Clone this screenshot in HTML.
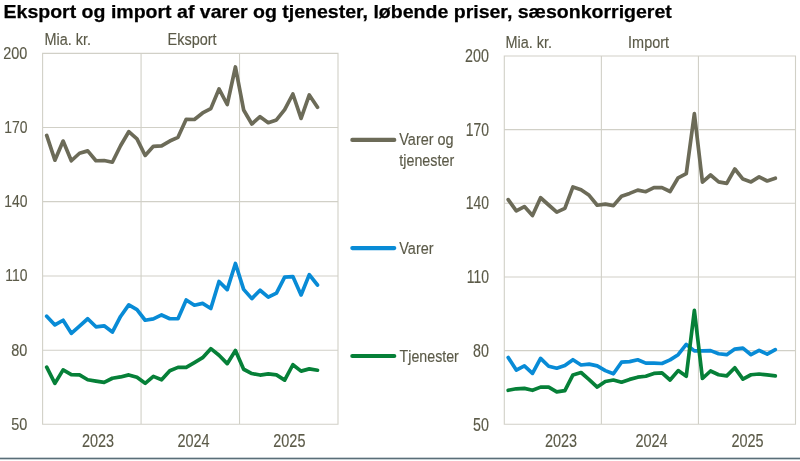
<!DOCTYPE html>
<html lang="da"><head><meta charset="utf-8"><title>Eksport og import af varer og tjenester</title>
<style>
html,body{margin:0;padding:0;background:#fff;}
body{width:800px;height:461px;overflow:hidden;}
svg{display:block;}
text{font-family:"Liberation Sans",Arial,Helvetica,sans-serif;}
.t{font-weight:bold;font-size:18.6px;fill:#000;stroke:#000;stroke-width:0.25px;}
.n{font-size:16.5px;fill:#5b5a48;stroke:#5b5a48;stroke-width:0.15px;}
</style></head><body>
<svg width="800" height="461" viewBox="0 0 800 461">
<rect width="800" height="461" fill="#fff"/>

<text class="t" x="3.5" y="17.75" textLength="668.3" lengthAdjust="spacingAndGlyphs">Eksport og import af varer og tjenester, løbende priser, sæsonkorrigeret</text>
<path d="M42.6 53.40H338.0M42.6 127.50H338.0M42.6 201.60H338.0M42.6 275.95H338.0M42.6 350.30H338.0M42.6 424.20H338.0M42.60 53.35V424.05M141.07 53.35V424.05M239.53 53.35V424.05M338.00 53.35V424.05" stroke="#d1d0c7" stroke-width="1.1" stroke-linecap="square" fill="none"/>
<path d="M504.3 56.00H795.5M504.3 129.66H795.5M504.3 203.32H795.5M504.3 276.98H795.5M504.3 350.64H795.5M504.3 424.30H795.5M504.30 56.0V424.3M601.37 56.0V424.3M698.43 56.0V424.3M795.50 56.0V424.3" stroke="#d1d0c7" stroke-width="1.1" stroke-linecap="square" fill="none"/>
<polyline points="46.70,135.45 54.91,160.20 63.11,141.05 71.32,160.75 79.53,153.25 87.73,150.85 95.94,160.75 104.14,160.55 112.35,162.25 120.55,145.75 128.76,131.70 136.96,138.85 145.17,155.45 153.38,146.35 161.58,145.95 169.79,141.05 177.99,137.35 186.20,119.35 194.40,119.50 202.61,112.95 210.81,108.60 219.02,88.95 227.22,104.50 235.43,67.00 243.64,109.95 251.84,124.00 260.05,116.70 268.25,122.70 276.46,119.90 284.66,109.60 292.87,94.00 301.08,118.40 309.28,94.95 317.49,107.30" fill="none" stroke="#6c6b58" stroke-width="3.7" stroke-linejoin="round" stroke-linecap="round"/>
<polyline points="46.70,316.15 54.91,324.95 63.11,320.25 71.32,333.35 79.53,326.05 87.73,318.75 95.94,326.80 104.14,325.85 112.35,332.05 120.55,316.45 128.76,304.85 136.96,309.55 145.17,320.25 153.38,318.95 161.58,314.95 169.79,318.75 177.99,318.75 186.20,299.95 194.40,305.25 202.61,303.35 210.81,308.45 219.02,281.45 227.22,289.65 235.43,263.45 243.64,289.35 251.84,298.65 260.05,290.25 268.25,297.15 276.46,293.05 284.66,277.15 292.87,276.55 301.08,294.95 309.28,274.65 317.49,285.00" fill="none" stroke="#088bd6" stroke-width="3.7" stroke-linejoin="round" stroke-linecap="round"/>
<polyline points="46.70,367.10 54.91,383.35 63.11,369.85 71.32,374.55 79.53,374.90 87.73,379.75 95.94,381.05 104.14,382.40 112.35,378.25 120.55,376.95 128.76,374.90 136.96,377.35 145.17,383.35 153.38,376.40 161.58,379.75 169.79,370.75 177.99,367.40 186.20,367.35 194.40,362.55 202.61,357.65 210.81,348.65 219.02,355.25 227.22,363.65 235.43,350.55 243.64,369.25 251.84,373.55 260.05,375.05 268.25,373.95 276.46,374.90 284.66,380.15 292.87,364.75 301.08,371.15 309.28,368.90 317.49,370.25" fill="none" stroke="#068038" stroke-width="3.7" stroke-linejoin="round" stroke-linecap="round"/>
<polyline points="508.20,199.60 516.29,210.90 524.38,206.60 532.48,215.60 540.57,197.75 548.67,205.00 556.76,212.20 564.86,208.40 572.95,186.90 581.04,189.70 589.14,195.30 597.23,205.25 605.32,204.10 613.42,205.60 621.51,196.25 629.61,193.40 637.70,190.10 645.79,191.70 653.89,187.60 661.98,187.60 670.08,191.50 678.17,177.80 686.26,173.70 694.36,113.70 702.45,182.10 710.55,175.00 718.64,181.90 726.73,183.40 734.83,169.00 742.92,179.10 751.02,181.90 759.11,176.90 767.20,181.00 775.30,178.20" fill="none" stroke="#6c6b58" stroke-width="3.7" stroke-linejoin="round" stroke-linecap="round"/>
<polyline points="508.20,357.50 516.29,370.10 524.38,365.90 532.48,373.40 540.57,358.40 548.67,366.30 556.76,368.20 564.86,365.60 572.95,359.75 581.04,365.00 589.14,364.10 597.23,365.90 605.32,370.60 613.42,373.80 621.51,362.20 629.61,361.60 637.70,359.75 645.79,363.10 653.89,363.10 661.98,363.50 670.08,359.90 678.17,354.70 686.26,344.40 694.36,350.90 702.45,350.90 710.55,350.60 718.64,353.75 726.73,354.70 734.83,349.10 742.92,348.10 751.02,354.70 759.11,350.40 767.20,354.10 775.30,349.60" fill="none" stroke="#088bd6" stroke-width="3.7" stroke-linejoin="round" stroke-linecap="round"/>
<polyline points="508.20,390.30 516.29,388.80 524.38,388.40 532.48,390.30 540.57,387.10 548.67,387.10 556.76,391.80 564.86,390.70 572.95,374.90 581.04,372.50 589.14,379.60 597.23,387.10 605.32,381.50 613.42,380.00 621.51,382.25 629.61,379.40 637.70,377.20 645.79,376.25 653.89,373.40 661.98,372.90 670.08,380.00 678.17,370.60 686.26,376.25 694.36,310.40 702.45,378.50 710.55,371.00 718.64,374.75 726.73,375.90 734.83,367.80 742.92,379.10 751.02,374.75 759.11,374.00 767.20,374.90 775.30,375.90" fill="none" stroke="#068038" stroke-width="3.7" stroke-linejoin="round" stroke-linecap="round"/>
<line x1="352.3" y1="139.9" x2="394.3" y2="139.9" stroke="#6c6b58" stroke-width="4.1" stroke-linecap="round"/>
<line x1="352.3" y1="248.1" x2="394.3" y2="248.1" stroke="#088bd6" stroke-width="4.1" stroke-linecap="round"/>
<line x1="352.3" y1="356" x2="394.3" y2="356" stroke="#068038" stroke-width="4.1" stroke-linecap="round"/>
<text class="n" transform="translate(399.3 145) scale(0.876 1)">Varer og</text>
<text class="n" transform="translate(399.3 165.7) scale(0.868 1)">tjenester</text>
<text class="n" transform="translate(399.3 253.5) scale(0.876 1)">Varer</text>
<text class="n" transform="translate(399.6 361.8) scale(0.862 1)">Tjenester</text>
<text class="n" transform="translate(27.4 58.60) scale(0.85 1)" text-anchor="end" style="font-size:17px">200</text>
<text class="n" transform="translate(27.4 133.10) scale(0.82 1)" text-anchor="end" style="font-size:17px">170</text>
<text class="n" transform="translate(27.4 207.20) scale(0.82 1)" text-anchor="end" style="font-size:17px">140</text>
<text class="n" transform="translate(27.4 281.40) scale(0.82 1)" text-anchor="end" style="font-size:17px">110</text>
<text class="n" transform="translate(27.4 355.80) scale(0.85 1)" text-anchor="end" style="font-size:17px">80</text>
<text class="n" transform="translate(27.4 430.15) scale(0.85 1)" text-anchor="end" style="font-size:17px">50</text>
<text class="n" transform="translate(488.9 61.75) scale(0.815 1)" text-anchor="end" style="font-size:17.5px">200</text>
<text class="n" transform="translate(488.9 135.50) scale(0.795 1)" text-anchor="end" style="font-size:17.5px">170</text>
<text class="n" transform="translate(488.9 209.25) scale(0.795 1)" text-anchor="end" style="font-size:17.5px">140</text>
<text class="n" transform="translate(488.9 283.00) scale(0.795 1)" text-anchor="end" style="font-size:17.5px">110</text>
<text class="n" transform="translate(488.9 356.75) scale(0.815 1)" text-anchor="end" style="font-size:17.5px">80</text>
<text class="n" transform="translate(488.9 430.50) scale(0.815 1)" text-anchor="end" style="font-size:17.5px">50</text>
<text class="n" transform="translate(44.4 45.3) scale(0.876 1)">Mia. kr.</text>
<text class="n" transform="translate(505.4 47.7) scale(0.876 1)">Mia. kr.</text>
<text class="n" transform="translate(167.6 45.3) scale(0.876 1)">Eksport</text>
<text class="n" transform="translate(628.1 47.7) scale(0.876 1)">Import</text>
<text class="n" transform="translate(82 447.1) scale(0.812 1)" style="font-size:17.8px">2023</text>
<text class="n" transform="translate(177.5 447.1) scale(0.812 1)" style="font-size:17.8px">2024</text>
<text class="n" transform="translate(273.3 447.1) scale(0.812 1)" style="font-size:17.8px">2025</text>
<text class="n" transform="translate(545 447.2) scale(0.812 1)" style="font-size:17.8px">2023</text>
<text class="n" transform="translate(635.5 447.2) scale(0.812 1)" style="font-size:17.8px">2024</text>
<text class="n" transform="translate(731.5 447.2) scale(0.812 1)" style="font-size:17.8px">2025</text>
<rect x="0" y="457.4" width="800" height="2.2" fill="#a3b0b7"/><rect x="0" y="458" width="800" height="1" fill="#5a6e78"/>
</svg>
</body></html>
